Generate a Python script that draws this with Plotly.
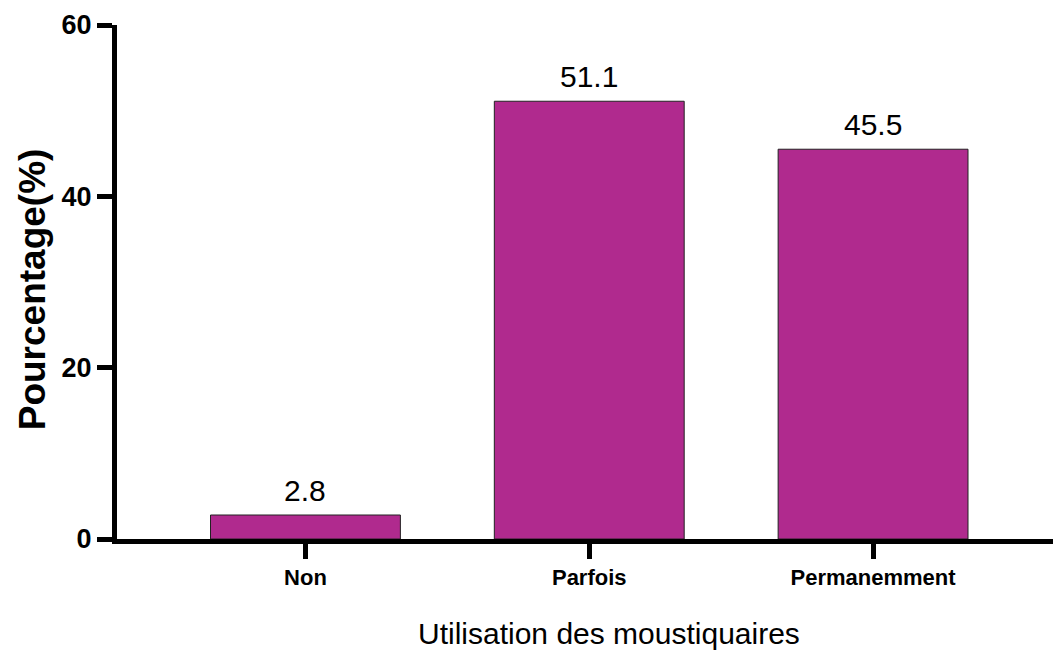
import plotly.graph_objects as go

categories = ["Non", "Parfois", "Permanemment"]
values = [2.8, 51.1, 45.5]
value_labels = ["2.8", "51.1", "45.5"]
y_ticks = [0, 20, 40, 60]

BAR_COLOR = "#B02A8E"

fig = go.Figure()
fig.add_trace(go.Bar(
    x=list(range(len(categories))),
    y=values,
    marker=dict(color=BAR_COLOR, line=dict(color="#222222", width=1)),
    width=0.669,
    hoverinfo="skip",
))

for i, (v, t) in enumerate(zip(values, value_labels)):
    fig.add_annotation(
        x=i, y=v, text=t, showarrow=False, yanchor="bottom", yshift=6,
        font=dict(family="Liberation Sans, Arial, sans-serif", size=30, color="#000000"),
    )

# axis titles
fig.add_annotation(
    xref="paper", yref="paper", x=0.526, y=-0.1835, yanchor="middle", xanchor="center",
    text="Utilisation des moustiquaires", showarrow=False,
    font=dict(family="Liberation Sans, Arial, sans-serif", size=30, color="#000000"),
)
fig.add_annotation(
    xref="paper", yref="paper", x=-0.0902, y=0.485, xanchor="center", yanchor="middle",
    text="Pourcentage(%)", showarrow=False, textangle=-90,
    font=dict(family="Liberation Sans, Arial, sans-serif", size=37, color="#000000", weight="bold"),
)

fig.update_layout(
    width=1053, height=652,
    margin=dict(l=116.5, r=0, t=24.5, b=112.5, pad=0),
    paper_bgcolor="white", plot_bgcolor="white",
    showlegend=False,
    xaxis=dict(
        range=[-0.664, 2.634],
        tickmode="array", tickvals=list(range(len(categories))), ticktext=categories,
        showline=True, linecolor="#000000", linewidth=5,
        ticks="outside", ticklen=15, tickwidth=5, tickcolor="#000000",
        showgrid=False, zeroline=False,
        tickfont=dict(family="Liberation Sans, Arial, sans-serif", size=22,
                      color="#000000", weight="bold"),
    ),
    yaxis=dict(
        range=[0, 60],
        tickmode="array", tickvals=y_ticks, ticktext=[str(v) for v in y_ticks],
        showline=True, linecolor="#000000", linewidth=5,
        ticks="outside", ticklen=15, tickwidth=5, tickcolor="#000000",
        showgrid=False, zeroline=False,
        tickfont=dict(family="Liberation Sans, Arial, sans-serif", size=27,
                      color="#000000", weight="bold"),
    ),
)

fig.write_html("out.html", config={"displayModeBar": False},
               post_script="document.body.style.margin='0px';")
